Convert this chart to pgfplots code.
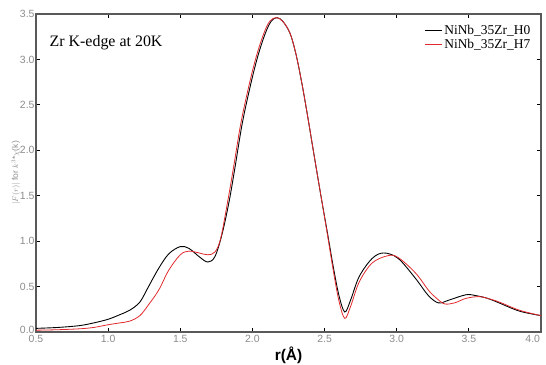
\documentclass[border=0pt]{standalone}
\usepackage{fontspec}
\setmainfont{Liberation Serif}
\setsansfont{Liberation Sans}
\usepackage{pgfplots}
\pgfplotsset{compat=1.18}
\definecolor{tickgray}{gray}{0.55}
\definecolor{axgray}{gray}{0.35}
\definecolor{myred}{RGB}{225,40,45}
\begin{document}
\begin{tikzpicture}
\begin{axis}[
  at={(0,0)}, anchor=south west,
  scale only axis, width=505bp, height=318bp,
  xmin=0.5, xmax=4.0, ymin=0, ymax=3.5,
  xtick={0.5,1.0,...,4.0}, ytick={0,0.5,...,3.5},
  xticklabels={0.5,1.0,1.5,2.0,2.5,3.0,3.5,\makebox[0pt][r]{4.0\kern1bp}},
  yticklabels={\raisebox{4bp}{0.0},0.5,1.0,1.5,2.0,2.5,3.0,3.5},
  tick align=inside, tick pos=both,
  major tick length=4bp,
  axis line style={axgray, line width=1.1pt},
  every tick/.style={black, line width=0.8pt},
  tick label style={font=\sffamily\fontsize{10.5}{11}\selectfont, text=tickgray},
  /pgf/number format/assume math mode=true,
  xticklabel style={yshift=0bp},
  yticklabel style={xshift=2bp},
  xlabel={\textbf{r(Å)}},
  xlabel style={font=\sffamily\fontsize{15.5}{16}\selectfont, yshift=3bp},
  ylabel={$|F(r)|$ for $k^{3}$*$\chi$(k)},
  ylabel style={font=\sffamily\fontsize{8.5}{9}\selectfont, text=tickgray, yshift=-7bp},
  legend style={at={(0.985,0.975)}, anchor=north east, draw=none, fill=none,
     font=\fontsize{13.5}{14}\selectfont, row sep=-1bp, inner sep=1bp},
  legend cell align=left,
  clip=true,
]
\addplot[black, line width=0.9pt, smooth, tension=0.55] coordinates {
(0.5,0.04)(0.65,0.05)(0.8,0.07)(0.9,0.10)(1.0,0.14)(1.08,0.19)(1.15,0.24)(1.22,0.33)(1.28,0.50)(1.35,0.70)(1.42,0.86)(1.5,0.94)(1.56,0.92)(1.63,0.83)(1.69,0.77)(1.74,0.83)(1.79,1.08)(1.84,1.45)(1.88,1.82)(1.93,2.30)(1.99,2.74)(2.04,3.05)(2.09,3.29)(2.13,3.42)(2.17,3.46)(2.21,3.42)(2.26,3.29)(2.30,3.07)(2.34,2.76)(2.38,2.40)(2.43,1.92)(2.48,1.45)(2.52,1.09)(2.56,0.72)(2.60,0.40)(2.64,0.22)(2.68,0.35)(2.74,0.61)(2.83,0.81)(2.91,0.87)(3.01,0.81)(3.13,0.59)(3.22,0.40)(3.29,0.32)(3.36,0.35)(3.48,0.41)(3.55,0.40)(3.63,0.37)(3.71,0.32)(3.85,0.23)(4.0,0.18)
};
\addlegendentry{NiNb\_35Zr\_H0}
\addplot[myred, line width=0.8pt, smooth, tension=0.55] coordinates {
(0.5,0.02)(0.65,0.025)(0.8,0.035)(0.9,0.05)(1.0,0.08)(1.08,0.10)(1.15,0.12)(1.22,0.18)(1.28,0.30)(1.35,0.46)(1.42,0.68)(1.5,0.85)(1.56,0.89)(1.63,0.87)(1.69,0.85)(1.74,0.88)(1.78,1.03)(1.83,1.45)(1.87,1.82)(1.92,2.30)(1.98,2.74)(2.03,3.05)(2.08,3.29)(2.12,3.42)(2.165,3.46)(2.21,3.42)(2.26,3.29)(2.30,3.07)(2.34,2.76)(2.38,2.40)(2.43,1.92)(2.48,1.45)(2.52,1.07)(2.56,0.68)(2.60,0.34)(2.64,0.15)(2.68,0.28)(2.74,0.55)(2.83,0.76)(2.94,0.84)(3.01,0.82)(3.13,0.65)(3.22,0.46)(3.27,0.38)(3.33,0.31)(3.40,0.32)(3.48,0.37)(3.57,0.39)(3.63,0.37)(3.71,0.33)(3.85,0.24)(4.0,0.18)
};
\addlegendentry{NiNb\_35Zr\_H7}
\node[anchor=north west, font=\fontsize{16}{17}\selectfont] at (axis cs:0.57,3.30) {Zr K-edge at 20K};
\end{axis}
\pgfresetboundingbox
\path (-36bp,-33bp) rectangle (510bp,332bp);
\end{tikzpicture}
\end{document}
